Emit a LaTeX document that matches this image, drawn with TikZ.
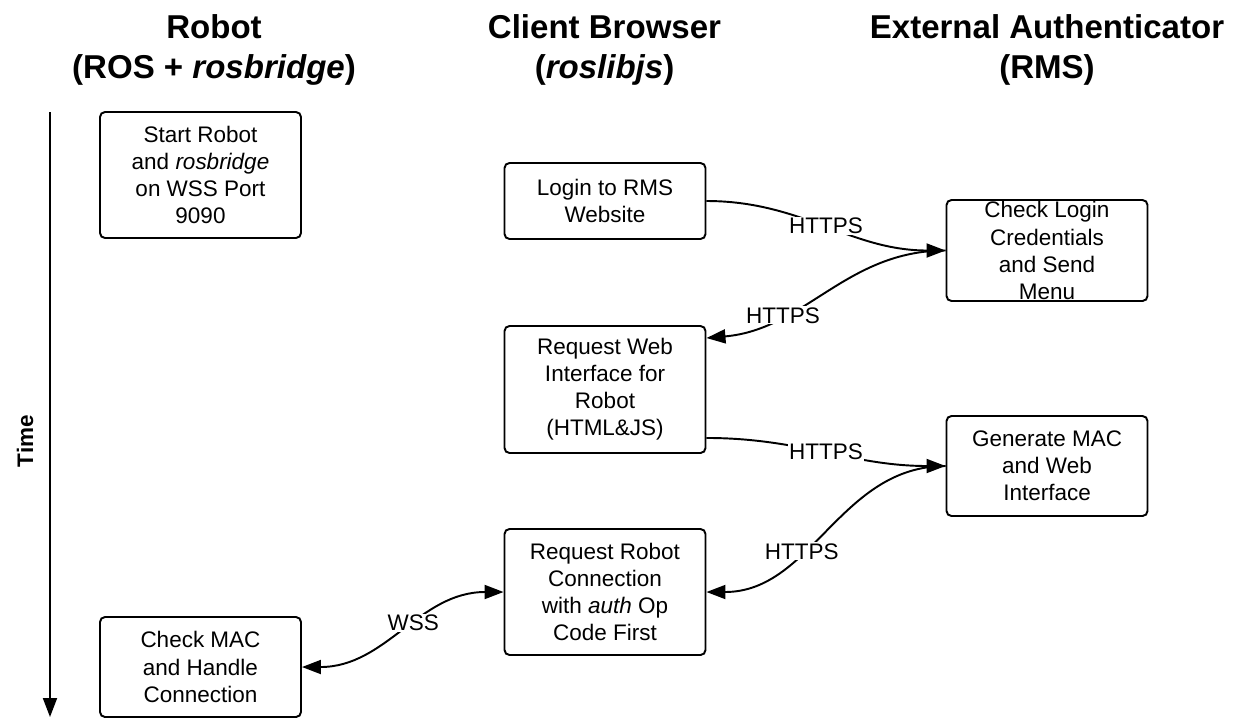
\documentclass[tikz,border=0pt]{standalone}
\usepackage{fontspec}
\setmainfont{Liberation Sans}
\usetikzlibrary{positioning,arrows.meta}
\tikzset{
  stepbox/.style={draw, line width=1.1pt, rounded corners=0.1cm, minimum width=4.02cm, align=center, inner ysep=0.2cm, font=\fontsize{12.8}{15.4}\selectfont},
  head/.style={align=center, inner sep=0pt, font=\fontsize{18.8}{22.8}\selectfont\bfseries},
  link/.style={line width=1.1pt, ->},
  lbl/.style={fill=white, inner sep=0.5pt, font=\fontsize{12.8}{15.4}\selectfont}
}
\begin{document}
\begin{tikzpicture}[node distance=8.09cm, >={Triangle[length=0.38cm,width=0.28cm]}]
\useasboundingbox (0,0) rectangle (24.72,-14.34);
\node (robothead) [head] at (4.28,-0.99) {Robot\\(ROS + \textit{rosbridge})};
\node (clienthead) [head] at (12.09,-0.99) {Client Browser\\(\textit{roslibjs})};
\node (authhead) [head] at (20.94,-0.99) {External Authenticator\\(RMS)};
\node (time) [rotate=90, font=\fontsize{12.8}{15.4}\selectfont\bfseries] at (0.5,-8.82) {Time};
\coordinate (tstart) at (1.0,-2.24);
\coordinate (tend) at (1.0,-14.34);
\draw[line width=1.1pt, ->] (tstart) -- (tend);
\node (start) [stepbox, minimum height=2.52cm] at (4.01,-3.5) {Start Robot\\and \textit{rosbridge}\\on WSS Port\\9090};
\node (login) [stepbox, right of=start, yshift=-0.52cm, minimum height=1.52cm] {Login to RMS\\Website};
\node (checklogin) [stepbox, right of=login, xshift=0.75cm, yshift=-0.99cm, inner ysep=0pt, minimum height=2.02cm] {Check Login\\Credentials\\and Send\\Menu};
\node (reqweb) [stepbox, below of=login, node distance=3.77cm, minimum height=2.54cm] {Request Web\\Interface for\\Robot\\(HTML\&JS)};
\node (genmac) [stepbox, right of=reqweb, xshift=0.75cm, yshift=-1.53cm, minimum height=2.0cm] {Generate MAC\\and Web\\Interface};
\node (reqrobot) [stepbox, below of=reqweb, node distance=4.05cm, minimum height=2.52cm] {Request Robot\\Connection\\with \textit{auth} Op\\Code First};
\node (checkmac) [stepbox, below of=start, node distance=9.84cm, minimum height=2.0cm] {Check MAC\\and Handle\\Connection};
\draw[link] (login.east) to[out=0, in=180] node[lbl] {HTTPS} (checklogin.west);
\draw[link] (checklogin.west) to[out=180, in=5] node[lbl, pos=0.7] {HTTPS} ([yshift=-0.26cm]reqweb.north east);
\draw[link] ([yshift=0.32cm]reqweb.south east) to[out=0, in=180] node[lbl] {HTTPS} (genmac.west);
\draw[link] (genmac.west) to[out=180, in=0] node[lbl, pos=0.62] {HTTPS} (reqrobot.east);
\draw[link, <->] (reqrobot.west) to[out=180, in=0] node[lbl, pos=0.44] {WSS} (checkmac.east);
\end{tikzpicture}
\end{document}
